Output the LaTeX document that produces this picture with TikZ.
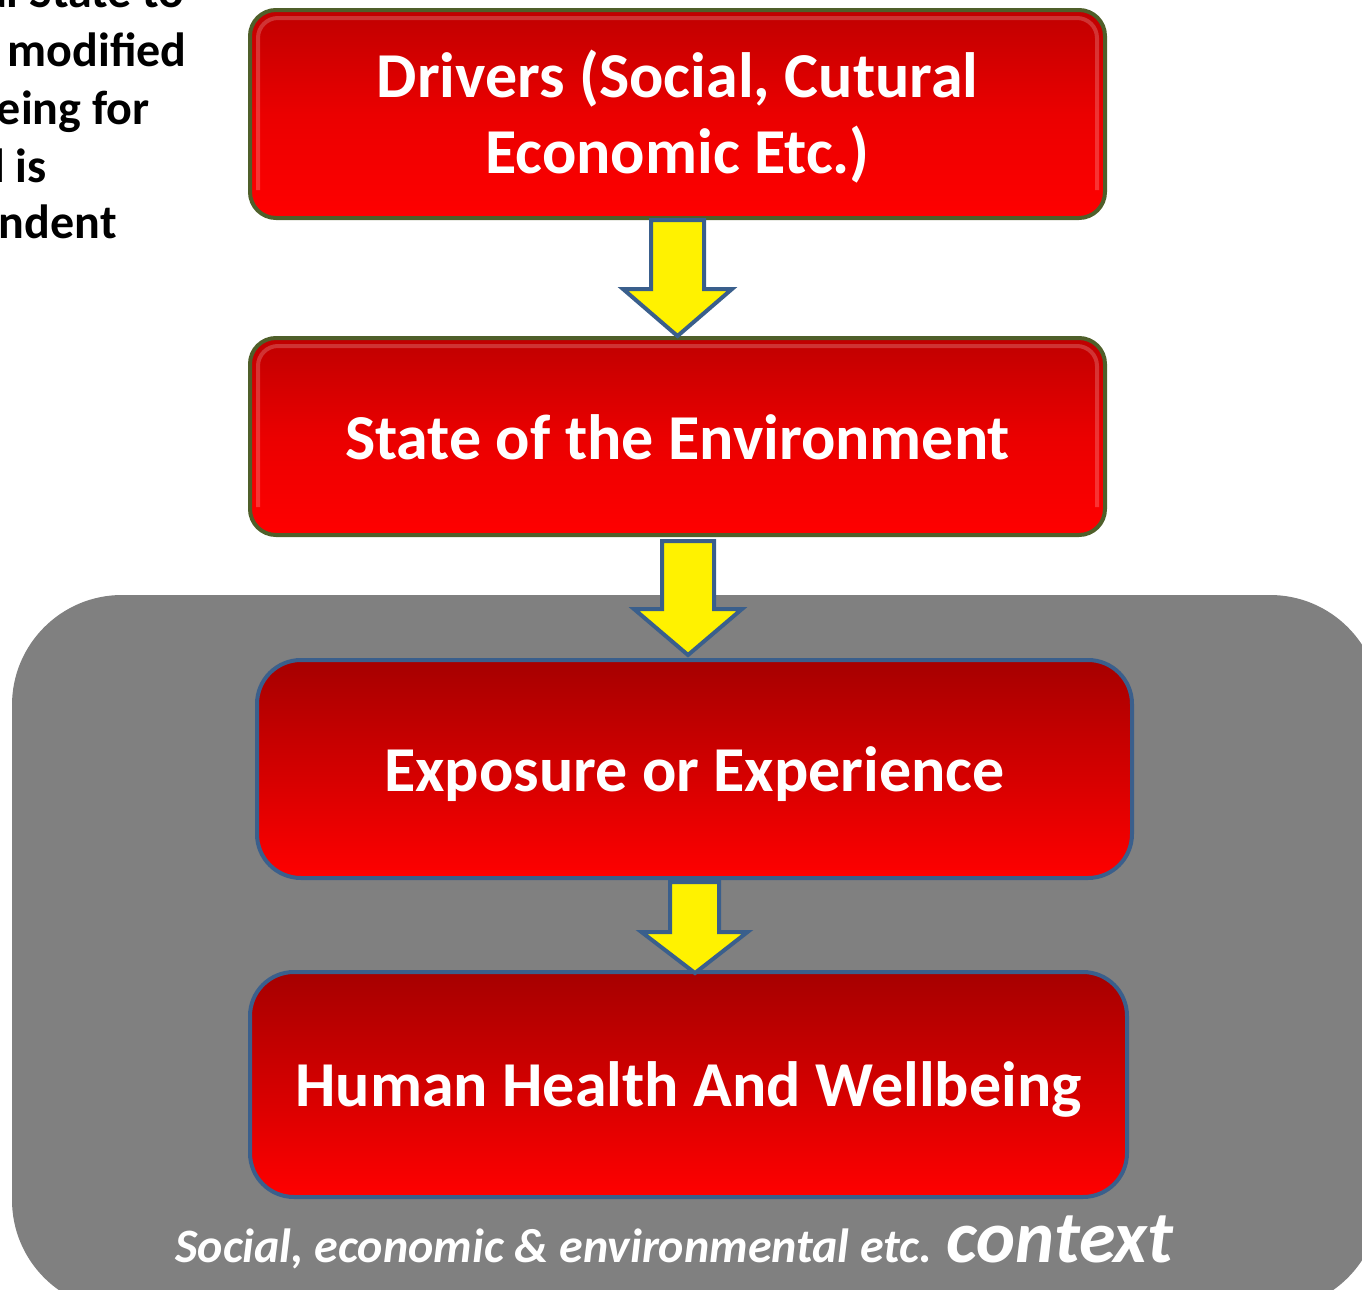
\documentclass[tikz,border=0pt]{standalone}
\usepackage{fontspec}
\setmainfont{Carlito}
\usetikzlibrary{calc}
\definecolor{olivebd}{HTML}{4F5F2A}
\definecolor{bluebd}{HTML}{3A5F8C}
\definecolor{ctxgrey}{HTML}{808080}
\tikzset{
  x=0.5pt, y=-0.5pt,
  boxA/.style={draw=olivebd, line width=2pt, rounded corners=13pt,
    top color=red!75!black, bottom color=red, middle color=red!92!black,
    text=white, font=\fontsize{32}{38}\selectfont\bfseries, align=center, inner sep=0pt},
  boxB/.style={draw=bluebd, line width=2pt, rounded corners=22pt,
    top color=red!65!black, bottom color=red,
    text=white, font=\fontsize{32}{38}\selectfont\bfseries, align=center, inner sep=0pt},
  flowarrow/.style={draw=bluebd, line width=2pt, fill=yellow, line join=miter},
  sidetext/.style={anchor=base east, inner sep=0pt, font=\fontsize{24}{28}\selectfont\bfseries},
  boxtext/.style={text=white, font=\fontsize{32}{38}\selectfont\bfseries, align=center, inner sep=0pt},
}
\begin{document}
\begin{tikzpicture}
\useasboundingbox (0,0) rectangle (1362,1290);
% context background
\fill[ctxgrey, rounded corners=55pt] (12,595) rectangle (1380,1310);
% side text (cut off at the picture's edge)
\node[sidetext] (t1) at (185,8) {al State to};
\node[sidetext] (t2) at (187,66) {modified};
\node[sidetext] (t3) at (150,124) {being for};
\node[sidetext] (t4) at (47,182) {l is};
\node[sidetext] (t5) at (117,238) {ndent};
% boxes
\node[boxA, minimum width=427.5pt, minimum height=104pt] (b1) at (677.5,114) {};
\node[boxA, minimum width=427.5pt, minimum height=98.5pt] (b2) at (677.5,436.5) {};
\node[boxB, minimum width=437.5pt, minimum height=109pt] (b3) at (694.5,769) {};
\node[boxB, minimum width=438.5pt, minimum height=112.5pt] (b4) at (688.5,1084.5) {};
% highlights on top boxes
\foreach \b in {b1,b2}{
  \draw[white, opacity=0.2, line width=2pt, rounded corners=10pt]
    ($(\b.south west)+(10,-30)$) -- ($(\b.north west)+(10,10)$) -- ($(\b.north east)+(-10,10)$) -- ($(\b.south east)+(-10,-30)$);
}
% box texts
\node[boxtext] (l1) at ($(b1.center)+(0,3)$) {Drivers (Social, Cutural\\Economic Etc.)};
\node[boxtext] (l2) at ($(b2.center)+(0,1)$) {State of the Environment};
\node[boxtext] (l3) at ($(b3.center)+(0,5)$) {Exposure or Experience};
\node[boxtext] (l4) at ($(b4.center)+(0,5)$) {Human Health And Wellbeing};
% arrows
\draw[flowarrow] ($(b1.south)+(-26.5,0)$) -- ($(b1.south)+(-26.5,69)$) -- ($(b1.south)+(-54.5,69)$)
  -- (b2.north) -- ($(b1.south)+(54.5,69)$) -- ($(b1.south)+(26.5,69)$) -- ($(b1.south)+(26.5,0)$) -- cycle;
\coordinate (a2top) at ($(b2.south)+(10.5,4)$);
\coordinate (a2tip) at ($(b3.north)+(-6.5,-3)$);
\draw[flowarrow] ($(a2top)+(-26,0)$) -- ($(a2top)+(-26,68)$) -- ($(a2top)+(-54,68)$)
  -- (a2tip) -- ($(a2top)+(54,68)$) -- ($(a2top)+(26,68)$) -- ($(a2top)+(26,0)$) -- cycle;
\coordinate (a3tip) at ($(b4.north)+(6.5,3)$);
\draw[flowarrow] ($(b3.south)+(-24.5,2)$) -- ($(b3.south)+(-24.5,52)$) -- ($(b3.south)+(-53,52)$)
  -- (a3tip) -- ($(b3.south)+(53,52)$) -- ($(b3.south)+(24.5,52)$) -- ($(b3.south)+(24.5,2)$) -- cycle;
% context caption
\node[anchor=base west, inner sep=0pt, text=white, font=\bfseries\itshape] (ctx) at (175,1262)
  {\fontsize{24}{28}\selectfont Social, economic \& environmental etc. \fontsize{37}{40}\selectfont context};
\end{tikzpicture}
\end{document}
